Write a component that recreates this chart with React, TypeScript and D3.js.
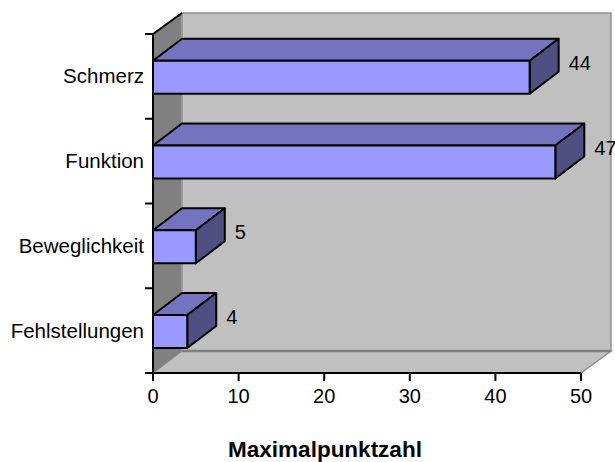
import React from "react";
import * as d3 from "d3";

const categories = ["Schmerz", "Funktion", "Beweglichkeit", "Fehlstellungen"];
const values = [44, 47, 5, 4];
const xTicks = [0, 10, 20, 30, 40, 50];
const axisTitle = "Maximalpunktzahl";

const W = 615;
const H = 462;
const DX = 29;
const DY = -22;
const FONT = "'Liberation Sans', Arial, sans-serif";

export default function App() {
  const x = d3.scaleLinear().domain([0, 50]).range([153, 581]);
  const y = d3.scaleBand().domain(categories).range([34, 373]);
  const bw = y.bandwidth();
  const barOffset = bw * 0.32;
  const barH = 33;

  const x0 = x(0);
  const x1 = x(50);
  const yTop = 34;
  const yBot = 373;

  const pts = (a: [number, number][]) => a.map((p) => p.join(",")).join(" ");

  return (
    <svg
      width={W}
      height={H}
      style={{ position: "absolute", left: 0, top: 0, background: "#fff" }}
      fontFamily={FONT}
    >
      {/* back wall */}
      <polygon
        points={pts([
          [x0 + DX, yTop + DY + 1],
          [x1 + DX + 1, yTop + DY + 1],
          [x1 + DX + 1, yBot + DY],
          [x0 + DX, yBot + DY],
        ])}
        fill="#c0c0c0"
        stroke="#909090"
        strokeWidth={1.5}
      />
      {/* floor */}
      <polygon
        points={pts([
          [x0, yBot],
          [x1, yBot],
          [x1 + DX + 1, yBot + DY],
          [x0 + DX, yBot + DY],
        ])}
        fill="#c0c0c0"
        stroke="#909090"
        strokeWidth={1.5}
      />
      {/* side wall */}
      <polygon
        points={pts([
          [x0, yTop],
          [x0 + DX, yTop + DY + 1],
          [x0 + DX, yBot + DY],
          [x0, yBot],
        ])}
        fill="#808080"
      />
      <line x1={x0 + DX} y1={yTop + DY + 1} x2={x0 + DX} y2={yBot + DY} stroke="#a0a0a0" strokeWidth={1.5} />
      {/* back wall bottom edge */}
      <line x1={x0 + DX} y1={yBot + DY} x2={x1 + DX + 1} y2={yBot + DY} stroke="#808080" strokeWidth={2.5} />
      <line x1={x0} y1={yTop} x2={x0 + DX} y2={yTop + DY + 1} stroke="#000" strokeWidth={2} />

      {/* bars */}
      {categories.map((c, i) => {
        const v = values[i];
        const top = (y(c) as number) + barOffset - 0.3;
        const bot = top + barH;
        const xl = x(0);
        const xr = x(v);
        return (
          <g key={c} stroke="#000" strokeWidth={2} strokeLinejoin="round">
            <polygon
              points={pts([
                [xl, top],
                [xl + DX, top + DY],
                [xr + DX, top + DY],
                [xr, top],
              ])}
              fill="#7373c0"
            />
            <polygon
              points={pts([
                [xr, top],
                [xr + DX, top + DY],
                [xr + DX, bot + DY],
                [xr, bot],
              ])}
              fill="#4f4f82"
            />
            <rect x={xl} y={top} width={xr - xl} height={barH} fill="#9999ff" />
            <text
              x={xr + DX + 10}
              y={top + 9}
              fontSize={20}
              stroke="none"
              fill="#000"
            >
              {v}
            </text>
          </g>
        );
      })}

      {/* category axis */}
      <line x1={x0} y1={yTop} x2={x0} y2={yBot} stroke="#000" strokeWidth={2} />
      {[...categories.map((c) => y(c) as number), yBot].map((t, i) => (
        <line key={i} x1={x0 - 8} y1={t} x2={x0} y2={t} stroke="#000" strokeWidth={2} />
      ))}
      {categories.map((c) => (
        <text
          key={c}
          x={144}
          y={(y(c) as number) + bw / 2 + 7}
          textAnchor="end"
          fontSize={20.5}
          fill="#000"
        >
          {c}
        </text>
      ))}

      {/* value axis */}
      <line x1={x0 - 8} y1={yBot} x2={x1} y2={yBot} stroke="#000" strokeWidth={2} />
      {xTicks.map((t) => (
        <g key={t}>
          <line x1={x(t)} y1={yBot} x2={x(t)} y2={yBot + 8} stroke="#000" strokeWidth={2} />
          <text x={x(t)} y={403} textAnchor="middle" fontSize={20} fill="#000">
            {t}
          </text>
        </g>
      ))}

      <text x={325} y={457} textAnchor="middle" fontSize={22.5} fontWeight="bold" fill="#000">
        {axisTitle}
      </text>
    </svg>
  );
}
